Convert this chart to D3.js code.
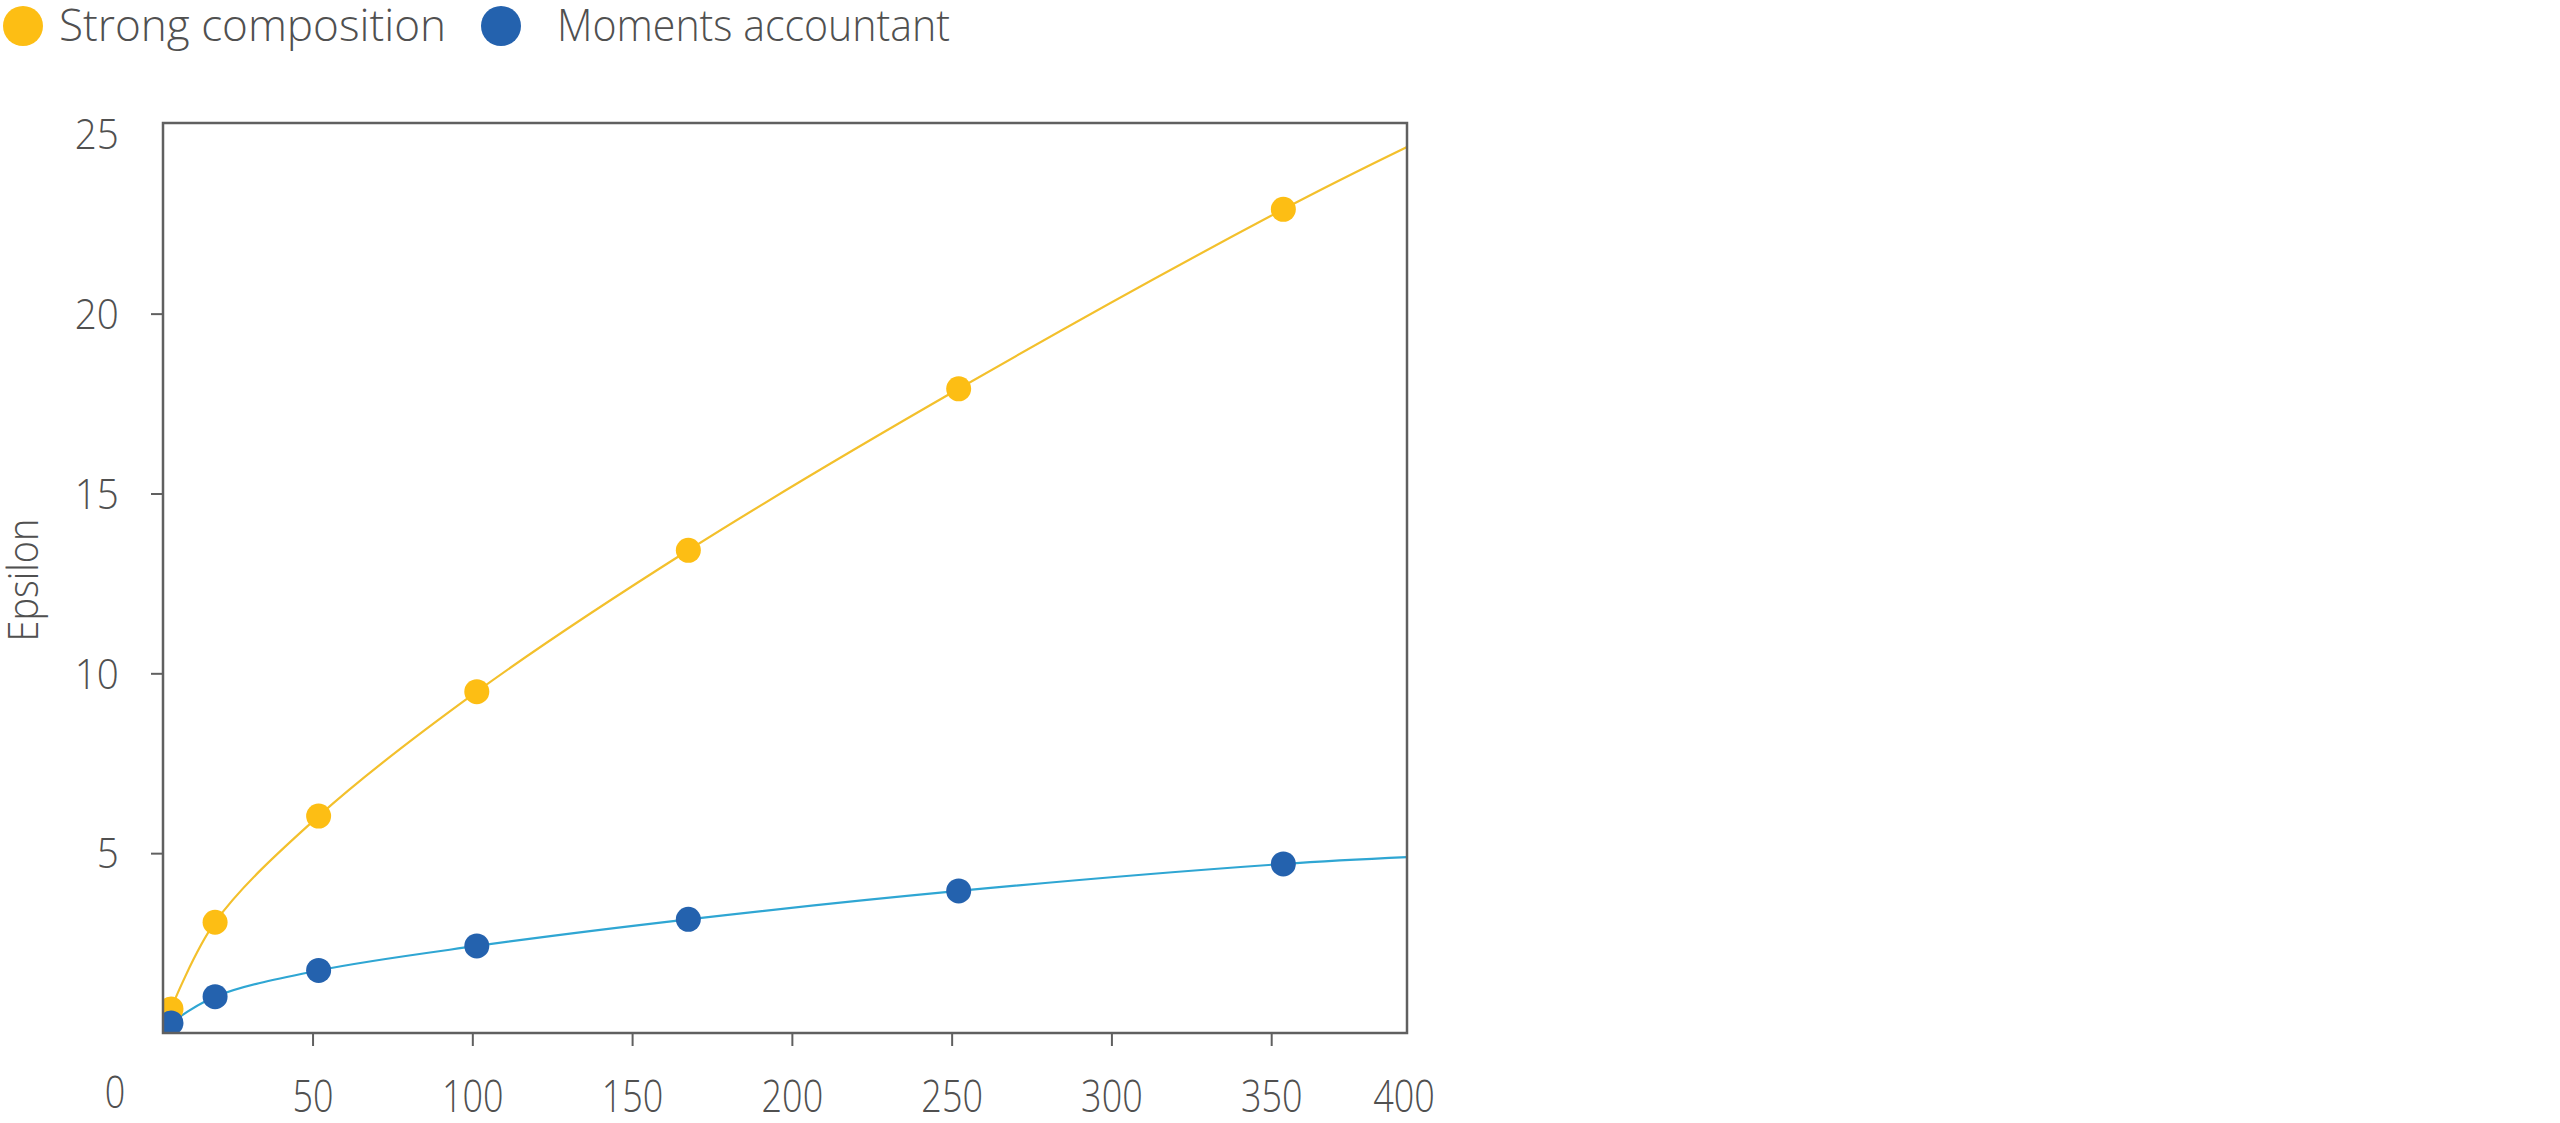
<!DOCTYPE html>
<html>
<head>
<meta charset="utf-8">
<script src="https://cdn.jsdelivr.net/npm/d3@7"></script>
<style>
  html, body { margin: 0; padding: 0; background: #fff; }
  svg { display: block; }
  text { font-family: "Open Sans", Lato, "Noto Sans", sans-serif; font-weight: 300; fill: #505050; }
</style>
</head>
<body>
<svg id="chart" width="2560" height="1123"></svg>
<script>
// ---- data ----
const seriesNames = ["Strong composition", "Moments accountant"];
const xValues = [5.7, 19.5, 51.9, 101.4, 167.6, 252.2, 353.8];
const strongValues = [0.67, 3.08, 6.03, 9.49, 13.42, 17.91, 22.9];
const momentsValues = [0.28, 1.01, 1.74, 2.42, 3.16, 3.95, 4.70];
// fitted-curve end values read at the right frame edge
const curveEndX = 392.5;
const strongCurveEnd = 24.63;
const momentsCurveEnd = 4.89;
const xTickValues = [50, 100, 150, 200, 250, 300, 350];
const yTickValues = [5, 10, 15, 20, 25];
const xCornerLabels = ["0", "400"];
const yTitle = "Epsilon";

// ---- layout ----
const mLeft = 163, mRight = 1407, mTop = 123, mBottom = 1033;
const colors = { strongDot: "#FDBE14", strongLine: "#F3C02C", momentsDot: "#2462AE", momentsLine: "#2FA6D3" };

const svg = d3.select("#chart");
const x = d3.scaleLinear().domain([3.2, curveEndX]).range([mLeft, mRight]);
const y = d3.scaleLinear().domain([0, 25.3]).range([mBottom, mTop]);

svg.append("defs").append("clipPath").attr("id", "plotclip")
  .append("rect").attr("x", mLeft).attr("y", mTop).attr("width", mRight - mLeft).attr("height", mBottom - mTop);

// y axis
const yAxis = svg.append("g").attr("transform", `translate(${mLeft},0)`)
  .call(d3.axisLeft(y).tickValues(yTickValues).tickSize(12).tickPadding(36));
yAxis.select(".domain").remove();
yAxis.selectAll(".tick line").attr("stroke", "#606060").attr("stroke-width", 2)
  .attr("opacity", d => d === 25 ? 0 : 1);
yAxis.selectAll(".tick text").attr("font-size", 42).attr("font-family", "'Open Sans', sans-serif")
  .attr("fill", "#505050").attr("dy", "0.35em")
  .attr("transform", "scale(0.92,1)");

// x axis
const xAxis = svg.append("g").attr("transform", `translate(0,${mBottom})`)
  .call(d3.axisBottom(x).tickValues(xTickValues).tickSize(13));
xAxis.select(".domain").remove();
xAxis.selectAll(".tick line").attr("stroke", "#606060").attr("stroke-width", 2);
xAxis.selectAll(".tick text").attr("font-size", 45).attr("font-family", "'Open Sans', sans-serif")
  .attr("fill", "#505050").attr("y", 63).attr("dy", "0.35em")
  .attr("transform", "scale(0.8,1)");

// corner labels "0" and "400"
svg.append("text").text(xCornerLabels[0])
  .attr("font-size", 45).attr("text-anchor", "middle").attr("dy", "0.35em")
  .attr("transform", `translate(${mLeft - 48},${mBottom + 59}) scale(0.8,1)`);
svg.append("text").text(xCornerLabels[1])
  .attr("font-size", 45).attr("text-anchor", "middle").attr("dy", "0.35em")
  .attr("transform", `translate(${x.range()[1] - 3},${mBottom + 63}) scale(0.8,1)`);

// y title
svg.append("text").text(yTitle)
  .attr("font-size", 42).attr("text-anchor", "middle")
  .attr("textLength", 123).attr("lengthAdjust", "spacingAndGlyphs")
  .attr("transform", `translate(${38},${580}) rotate(-90)`);

// lines
const plot = svg.append("g").attr("clip-path", "url(#plotclip)");
const line = d3.line().x(d => x(d[0])).y(d => y(d[1])).curve(d3.curveCatmullRom.alpha(0.5));
const strongCurve = xValues.map((v, i) => [v, strongValues[i]]).concat([[curveEndX, strongCurveEnd]]);
const momentsCurve = xValues.map((v, i) => [v, momentsValues[i]]).concat([[curveEndX, momentsCurveEnd]]);
plot.append("path").datum(strongCurve).attr("d", line)
  .attr("fill", "none").attr("stroke", colors.strongLine).attr("stroke-width", 2.2);
plot.append("path").datum(momentsCurve).attr("d", line)
  .attr("fill", "none").attr("stroke", colors.momentsLine).attr("stroke-width", 2.2);

// dots
plot.selectAll(".sdot").data(xValues).enter().append("circle")
  .attr("cx", d => x(d)).attr("cy", (d, i) => y(strongValues[i])).attr("r", 12.5)
  .attr("fill", colors.strongDot);
plot.selectAll(".mdot").data(xValues).enter().append("circle")
  .attr("cx", d => x(d)).attr("cy", (d, i) => y(momentsValues[i])).attr("r", 12.5)
  .attr("fill", colors.momentsDot);

// frame
svg.append("rect").attr("x", mLeft).attr("y", mTop).attr("width", mRight - mLeft).attr("height", mBottom - mTop)
  .attr("fill", "none").attr("stroke", "#606060").attr("stroke-width", 2.5);

// legend
const legendItems = [
  { name: seriesNames[0], color: colors.strongDot, cx: 23, tx: 59, len: 387 },
  { name: seriesNames[1], color: colors.momentsDot, cx: 501, tx: 557, len: 393 }
];
const lg = svg.append("g");
legendItems.forEach(it => {
  lg.append("circle").attr("cx", it.cx).attr("cy", 26).attr("r", 20).attr("fill", it.color);
  lg.append("text").text(it.name).attr("x", it.tx).attr("y", 26).attr("dy", "0.35em")
    .attr("font-size", 44).attr("textLength", it.len).attr("lengthAdjust", "spacingAndGlyphs");
});
</script>
</body>
</html>
